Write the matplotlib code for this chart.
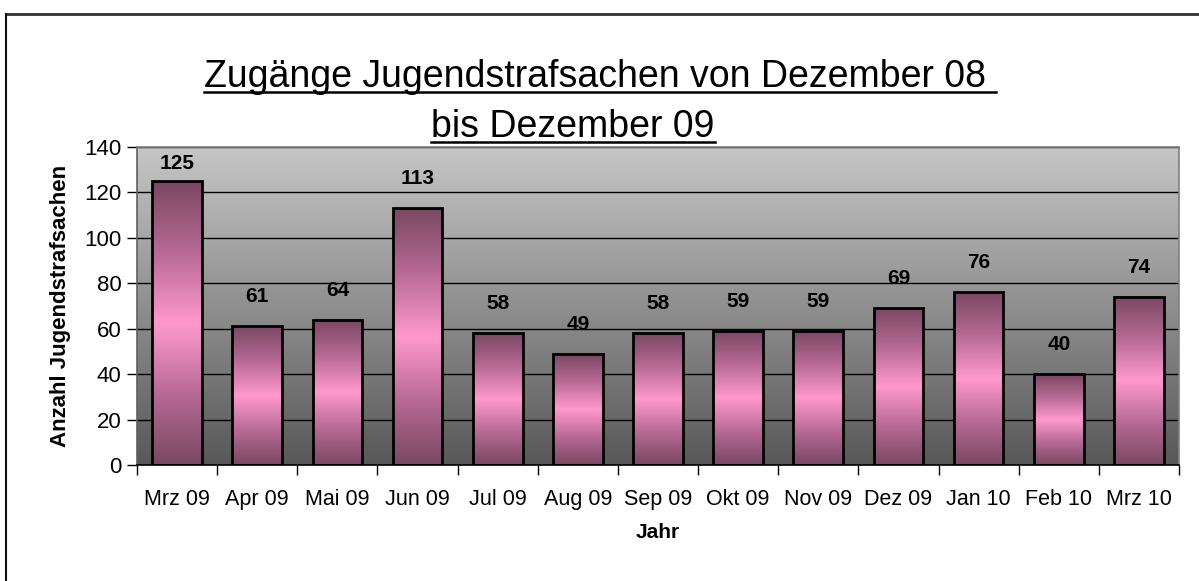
import numpy as np
import matplotlib
matplotlib.use('Agg')
import matplotlib.pyplot as plt
from matplotlib.colors import LinearSegmentedColormap
from matplotlib.lines import Line2D

plt.rcParams['font.family'] = ['Liberation Sans', 'DejaVu Sans']

# data
months = ['Mrz 09', 'Apr 09', 'Mai 09', 'Jun 09', 'Jul 09', 'Aug 09', 'Sep 09',
          'Okt 09', 'Nov 09', 'Dez 09', 'Jan 10', 'Feb 10', 'Mrz 10']
counts = [125, 61, 64, 113, 58, 49, 58, 59, 59, 69, 76, 40, 74]
y_ticks = [0, 20, 40, 60, 80, 100, 120, 140]

W, H = 1199, 581
fig = plt.figure(figsize=(W / 100, H / 100), dpi=100)
fig.patch.set_facecolor('white')
ax = fig.add_axes([137 / W, 1 - 465 / H, (1179 - 137) / W, (465 - 147) / H])

# plot area gradient (light at top, dark at bottom)
bg = LinearSegmentedColormap.from_list('bg', ['#585858', '#c6c6c6'])
ax.imshow(np.linspace(0, 1, 256).reshape(-1, 1), cmap=bg, origin='lower',
          extent=[0, 1, 0, 1], transform=ax.transAxes, aspect='auto', zorder=0)

# grid lines
for t in y_ticks[1:]:
    ax.axhline(t, color='black', lw=1, zorder=1)

# bars with vertical gradient dark - pink - dark
barcm = LinearSegmentedColormap.from_list('bar', ['#7a4862', '#b76a94', '#ff99cc', '#b76a94', '#7a4862'])
grad = np.linspace(0, 1, 256).reshape(-1, 1)
bars = ax.bar(range(len(months)), counts, width=0.62, facecolor='none',
              edgecolor='black', linewidth=2, zorder=3)
for b in bars:
    x0, w, h = b.get_x(), b.get_width(), b.get_height()
    ax.imshow(grad, cmap=barcm, origin='lower', aspect='auto',
              extent=[x0, x0 + w, 0, h], zorder=2, interpolation='bilinear')
ax.set_xlim(-0.5, len(months) - 0.5)
ax.set_ylim(0, 140)

# value labels above bars (kept inside the plot area)
px_per_unit = (465 - 147) / 140
for i, v in enumerate(counts):
    off_px = min(20, (140 - v) * px_per_unit - 26)
    ax.annotate(str(v), (i, v), xytext=(0, off_px * 0.72), textcoords='offset points',
                ha='center', va='bottom', fontsize=15, fontweight='bold', zorder=4)

# axes
ax.set_yticks(y_ticks)
ax.set_xticks(range(len(months)))
ax.set_xticklabels(months)
ax.set_xticks(np.arange(-0.5, len(months)), minor=True)
ax.tick_params(axis='x', which='major', length=0, labelsize=15.5, pad=17)
ax.tick_params(axis='x', which='minor', length=7, width=1, direction='out', color='black')
ax.tick_params(axis='y', length=7, width=1, direction='out', labelsize=16, pad=4, color='black')
for s in ['top', 'right']:
    ax.spines[s].set_color('#808080')
ax.spines['left'].set_color('#606060')
ax.spines['bottom'].set_color('black')
for s in ax.spines.values():
    s.set_linewidth(1.2)
    s.set_zorder(5)

ax.set_xlabel('Jahr', fontsize=15, fontweight='bold', labelpad=10)
ax.set_ylabel('Anzahl Jugendstrafsachen', fontsize=16, fontweight='bold', labelpad=10)

# title, two underlined lines
t1 = fig.text(600 / W, 1 - 87 / H, 'Zugänge Jugendstrafsachen von Dezember 08 ',
              ha='center', va='baseline', fontsize=27)
t2 = fig.text(573 / W, 1 - 137 / H, 'bis Dezember 09',
              ha='center', va='baseline', fontsize=27)
fig.canvas.draw()
r = fig.canvas.get_renderer()
for t, base in [(t1, 87), (t2, 137)]:
    bb = t.get_window_extent(r)
    yl = 1 - (base + 5) / H
    fig.add_artist(Line2D([bb.x0 / W, bb.x1 / W], [yl, yl], color='black', lw=1.8,
                          transform=fig.transFigure))

# outer frame (top and left visible)
fig.add_artist(Line2D([6 / W, 1], [1 - 14 / H, 1 - 14 / H], color='#333333', lw=2,
                      transform=fig.transFigure))
fig.add_artist(Line2D([6 / W, 6 / W], [0, 1 - 14 / H], color='#111111', lw=1.5,
                      transform=fig.transFigure))

fig.savefig('out.png', dpi=100)
